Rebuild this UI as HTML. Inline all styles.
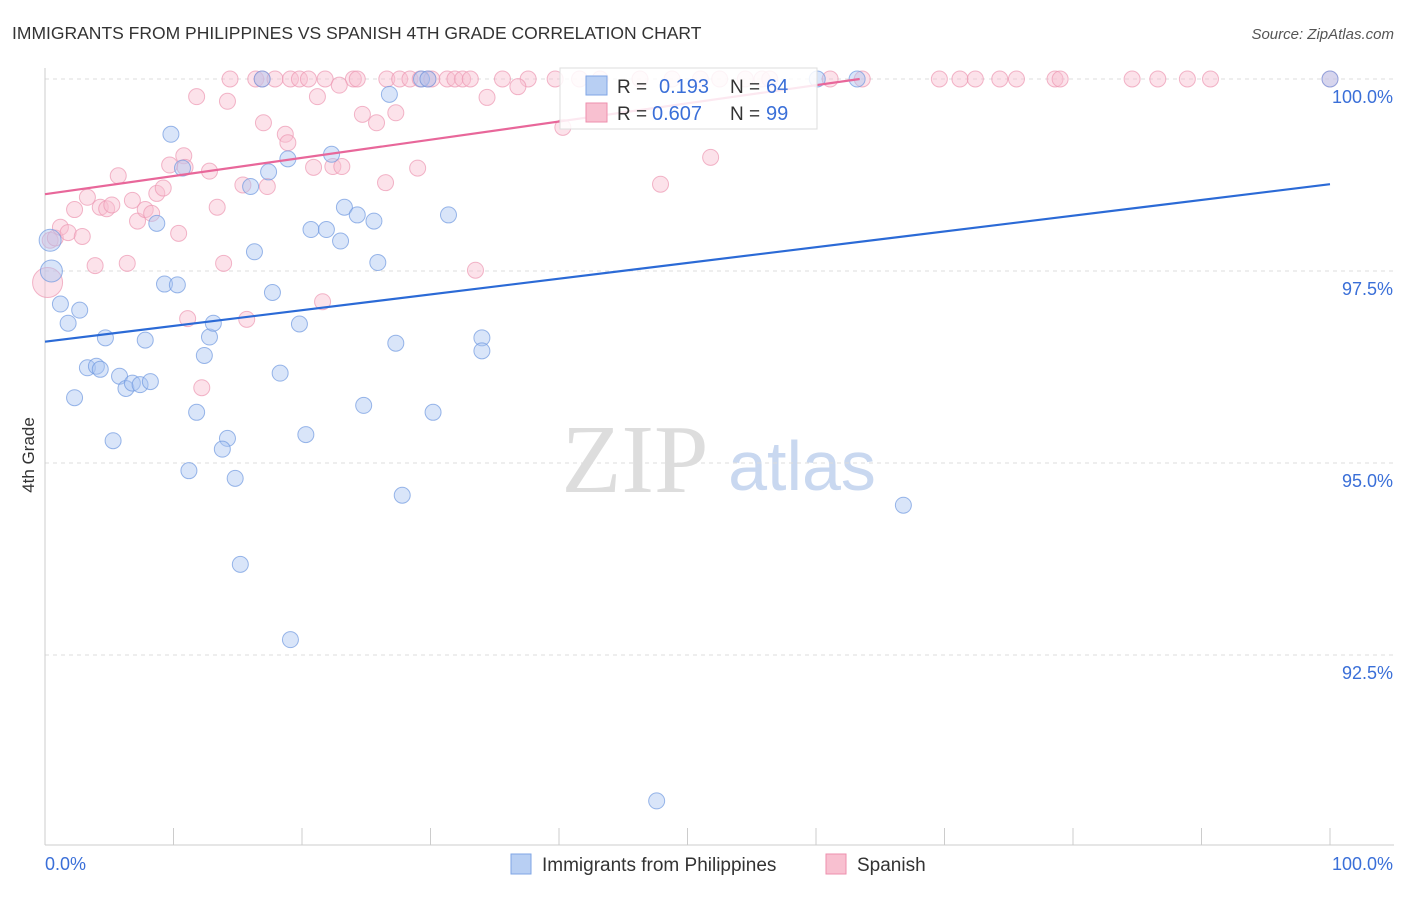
<!DOCTYPE html>
<html><head><meta charset="utf-8"><style>
body{margin:0;background:#fff;font-family:"Liberation Sans",sans-serif}
</style></head><body>
<svg id="c" width="1406" height="892" xmlns="http://www.w3.org/2000/svg" font-family="Liberation Sans, sans-serif">
<text x="12" y="39" font-size="17.5" fill="#333">IMMIGRANTS FROM PHILIPPINES VS SPANISH 4TH GRADE CORRELATION CHART</text>
<text x="1394" y="39" font-size="15" fill="#555" font-style="italic" text-anchor="end">Source: ZipAtlas.com</text>
<text x="34" y="455" font-size="17" fill="#333" transform="rotate(-90 34 455)" text-anchor="middle">4th Grade</text>
<g><text x="635" y="492" font-size="98" fill="#ddd" font-family="Liberation Serif, serif" text-anchor="middle">ZIP</text><text x="802" y="490" font-size="70" fill="#c9d8f0" text-anchor="middle">atlas</text></g>
<g id="grid"></g><g id="axes"></g><g id="pts"></g><g id="trend"></g>
<g>
<rect x="560" y="68" width="257" height="61" fill="#fff" fill-opacity="0.85" stroke="#ddd"/>
<rect x="586" y="76" width="21" height="19" fill="#b8cff3" stroke="#7fa6e6"/>
<rect x="586" y="103" width="21" height="19" fill="#f8c0d0" stroke="#ee8fae"/>
<text x="617" y="93" font-size="19" fill="#333">R =</text><text x="659" y="93" font-size="20" fill="#3a6fd8">0.193</text>
<text x="730" y="93" font-size="19" fill="#333">N =</text><text x="766" y="93" font-size="20" fill="#3a6fd8">64</text>
<text x="617" y="120" font-size="19" fill="#333">R =</text><text x="652" y="120" font-size="20" fill="#3a6fd8">0.607</text>
<text x="730" y="120" font-size="19" fill="#333">N =</text><text x="766" y="120" font-size="20" fill="#3a6fd8">99</text>
</g>
<g>
<rect x="511" y="854" width="20" height="20" fill="#b8cff3" stroke="#7fa6e6"/>
<text x="542" y="871" font-size="19" fill="#333">Immigrants from Philippines</text>
<rect x="826" y="854" width="20" height="20" fill="#f8c0d0" stroke="#ee8fae"/>
<text x="857" y="871" font-size="19" fill="#333">Spanish</text>
</g>
</svg>
<script>
const yTicks=[100,97.5,95,92.5];
const xTickLabels=["0.0%","100.0%"];
const blueX=[0.4,0.5,1.2,1.8,2.7,4.7,3.3,4.0,4.3,2.3,5.3,5.8,6.3,6.8,7.4,8.2,7.8,8.7,9.8,10.7,9.3,10.3,12.4,11.8,12.8,13.1,14.2,13.8,11.2,14.8,15.2,16.0,16.3,16.9,17.4,17.7,18.3,18.9,19.1,19.8,20.3,20.7,21.9,22.3,23.0,23.3,24.3,24.8,25.6,25.9,26.8,27.3,27.8,29.3,29.8,30.2,31.4,34.0,34.0,47.6,60.1,63.2,66.8,100];
const blueY=[97.9,97.5,97.07,96.82,96.99,96.63,96.24,96.26,96.22,95.85,95.29,96.13,95.97,96.04,96.02,96.06,96.6,98.12,99.28,98.84,97.33,97.32,96.4,95.66,96.64,96.82,95.32,95.18,94.9,94.8,93.68,98.6,97.75,100,98.79,97.22,96.17,98.96,92.7,96.81,95.37,98.04,98.04,99.02,97.89,98.33,98.23,95.75,98.15,97.61,99.8,96.56,94.58,100,100,95.66,98.23,96.63,96.46,90.6,100,100,94.45,100];
const pinkTopX=[14.4,16.4,16.9,17.9,19.1,19.8,20.5,21.8,24.0,24.3,26.6,27.6,28.4,29.2,29.8,30.1,31.3,31.9,32.5,33.1,35.6,37.6,39.7,41.6,43.2,46.3,48.8,51.0,52.5,54.5,55.8,56.4,61.1,63.6,69.6,71.2,72.4,74.3,75.6,78.6,79.0,84.6,86.6,88.9,90.7,100];
const pinkX=[0.2,0.4,0.8,1.2,1.8,2.3,2.9,3.3,3.9,4.3,4.8,5.2,5.7,6.4,6.8,7.2,7.8,8.3,8.7,9.2,9.7,10.4,10.8,10.9,11.1,11.8,12.2,12.8,13.4,13.9,14.2,15.4,15.7,17.0,17.3,18.7,18.9,20.9,21.2,21.6,22.4,23.1,22.9,24.7,25.8,26.5,27.3,29.0,33.5,34.4,36.8,40.3,47.9,51.8];
const pinkY=[97.35,97.9,97.93,98.07,98.0,98.3,97.95,98.46,97.57,98.33,98.31,98.36,98.74,97.6,98.42,98.15,98.3,98.25,98.51,98.58,98.88,97.99,99.0,98.85,96.88,99.77,95.98,98.8,98.33,97.6,99.71,98.62,96.87,99.43,98.6,99.28,99.17,98.85,99.77,97.1,98.86,98.86,99.92,99.54,99.43,98.65,99.56,98.84,97.51,99.76,99.9,99.37,98.63,98.98];
const blueLine=[96.58,98.63], pinkLine=[98.5,100.0], pinkLineEnd=63.4;
const X=v=>45+v*12.85, Y=v=>79+(100-v)*76.8;
const NS="http://www.w3.org/2000/svg";
function mk(t,a,p){const e=document.createElementNS(NS,t);for(const k in a)e.setAttribute(k,a[k]);document.getElementById(p).appendChild(e);return e;}
yTicks.forEach(t=>{
 const l=mk('line',{x1:45,x2:1394,y1:Y(t),y2:Y(t),stroke:'#ddd','stroke-dasharray':'4,4'},'grid');
 
 
 const tx=mk('text',{x:1393,y:Y(t)+24,'font-size':18,fill:'#3a6fd8','text-anchor':'end'},'grid');tx.textContent=t.toFixed(1)+'%';
 
 
});
mk('line',{x1:45,x2:45,y1:68,y2:845,stroke:'#ccc'},'axes');
mk('line',{x1:45,x2:1394,y1:845,y2:845,stroke:'#ccc'},'axes');
for(let i=1;i<=10;i++){const t=mk('line',{x1:45+i*128.5,x2:45+i*128.5,y1:828,y2:845,stroke:'#ccc'},'axes');
 
 }
let a=mk('text',{x:45,y:870,'font-size':18,fill:'#3a6fd8'},'axes');a.textContent=xTickLabels[0];


a=mk('text',{x:1393,y:870,'font-size':18,fill:'#3a6fd8','text-anchor':'end'},'axes');a.textContent=xTickLabels[1];


function pt(x,y,f,s,r,n){const c=mk('circle',{cx:X(x),cy:Y(y),r:r,fill:f,'fill-opacity':0.45,stroke:s,'stroke-opacity':0.7},'pts');
 
 }
pinkTopX.forEach(x=>pt(x,100,'#f8bfd0','#ec97b2',8,'spanish-point'));
pinkX.forEach((x,i)=>pt(x,pinkY[i],'#f8bfd0','#ec97b2',i==0?15:8,'spanish-point'));
blueX.forEach((x,i)=>pt(x,blueY[i],'#aac6f1','#6f98df',i<2?11:8,'philippines-point'));
let l=mk('line',{x1:X(0),y1:Y(blueLine[0]),x2:X(100),y2:Y(blueLine[1]),stroke:'#2b6ad6','stroke-width':2.2},'trend');


l=mk('line',{x1:X(0),y1:Y(pinkLine[0]),x2:X(pinkLineEnd),y2:Y(pinkLine[1]),stroke:'#e8679a','stroke-width':2.2},'trend');


</script>
</body></html>
